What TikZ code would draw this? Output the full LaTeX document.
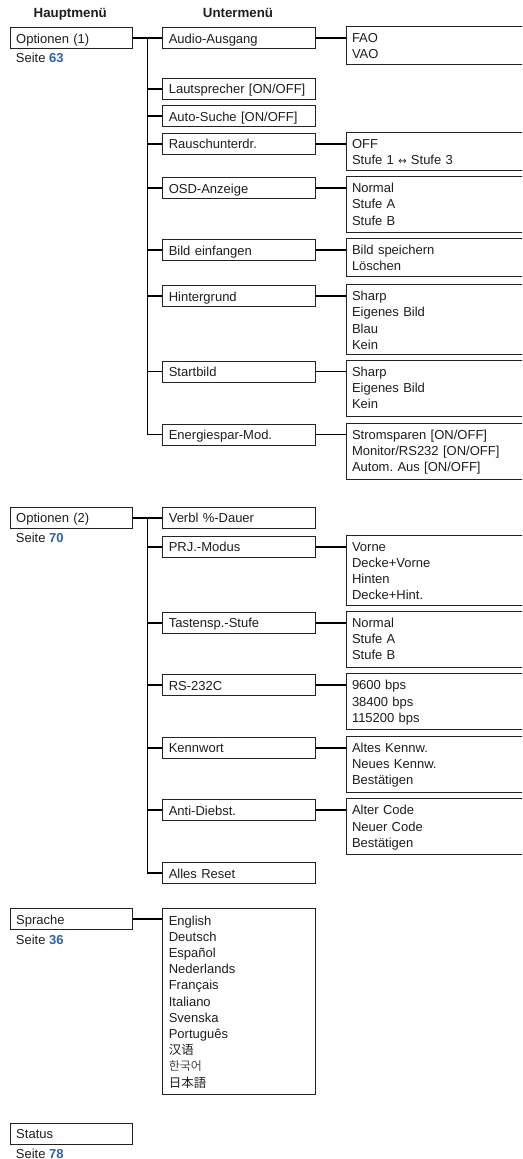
\documentclass[tikz,border=0pt]{standalone}
\usepackage{fontspec}
\setmainfont{Liberation Sans}
\newfontfamily\arrowfont{DejaVu Sans}
\newfontfamily\cjksc{Noto Sans CJK SC}
\newfontfamily\cjkkr{Noto Sans CJK KR}
\newfontfamily\cjkjp{Noto Sans CJK JP}
\usetikzlibrary{calc}
\frenchspacing
\definecolor{txt}{RGB}{30,30,30}
\definecolor{pageblue}{RGB}{44,98,176}
\definecolor{boxline}{RGB}{35,35,35}
\newcommand{\seitelbl}[1]{Seite \textbf{\textcolor{pageblue}{#1}}}
\newcommand{\dblarrow}{{\arrowfont\fontsize{10}{10}\selectfont ↔}}
\begin{document}
\begin{tikzpicture}[x=1pt,y=-1pt,
  every node/.style={font=\fontsize{13}{16.2}\selectfont\frenchspacing, text=txt},
  mainbox/.style={draw=boxline, line width=1pt, anchor=north west, text width=110.2pt, inner xsep=5.75pt, inner ysep=5.5pt, text height=10pt, text depth=0pt, align=left},
  subbox/.style={draw=boxline, line width=1pt, anchor=north west, text width=140.2pt, inner xsep=6pt, inner ysep=5.5pt, text height=10pt, text depth=0pt, align=left},
  rbox/.style={draw=boxline, line width=1pt, anchor=north west, text width=202.5pt, inner xsep=6pt, inner ysep=0pt, text height=16.15pt, text depth=#1, align=left},
  langbox/.style={draw=boxline, line width=1pt, anchor=north west, text width=141pt, inner xsep=6pt, inner ysep=0pt, text height=16.3pt, text depth=169.4pt, align=left},
  conn/.style={line width=1.9pt, draw=black},
  pagelbl/.style={anchor=base west, inner sep=0pt},
  head/.style={anchor=base, inner sep=0pt, font=\fontsize{13.3}{16}\selectfont\bfseries}
]
\useasboundingbox (0,0) rectangle (522,1159);
\fill[white] (0,0) rectangle (522,1159);
\clip (0,0) rectangle (522,1159);

% headers
\node[head] (hm) at (70.3,17.8) {Hauptmenü};
\node[head] (um) at (238,17.8) {Untermenü};

% ---------- Optionen (1)
\node[mainbox] (o1) at (10,27) {Optionen (1)};
\node[pagelbl] (p1) at (15.7,62) {\seitelbl{63}};

\node[subbox] (a1) at (162.3,27)    {Audio-Ausgang};
\node[subbox] (a2) at (162.3,77.7)  {Lautsprecher [ON/OFF]};
\node[subbox] (a3) at (162.3,105)   {Auto-Suche [ON/OFF]};
\node[subbox] (a4) at (162.3,132.7) {Rauschunterdr.};
\node[subbox] (a5) at (162.3,177)   {OSD-Anzeige};
\node[subbox] (a6) at (162.3,239)   {Bild einfangen};
\node[subbox] (a7) at (162.3,285)   {Hintergrund};
\node[subbox] (a8) at (162.3,360.5) {Startbild};
\node[subbox] (a9) at (162.3,423.5) {Energiespar-Mod.};

\node[rbox=22.15pt] (r1) at (345.5,26)    {FAO\\VAO};
\node[rbox=22.15pt] (r4) at (345.5,131.7) {OFF\\Stufe 1 \dblarrow{} Stufe 3};
\node[rbox=39.85pt] (r5) at (345.5,176)   {Normal\\Stufe A\\Stufe B};
\node[rbox=22.15pt] (r6) at (345.5,238)   {Bild speichern\\Löschen};
\node[rbox=53.85pt] (r7) at (345.5,284)   {Sharp\\Eigenes Bild\\Blau\\Kein};
\node[rbox=39.85pt] (r8) at (345.5,359.5) {Sharp\\Eigenes Bild\\Kein};
\node[rbox=39.85pt] (r9) at (345.5,422.5) {Stromsparen [ON/OFF]\\Monitor/RS232 [ON/OFF]\\Autom. Aus [ON/OFF]};

\coordinate (t1) at ($(o1.east)!0.5!(a1.west)$);
\draw[conn] (o1.east) -- (a1.west);
\foreach \s in {a2,a3,a4,a5,a6,a7,a8,a9} \draw[conn] (t1) |- (\s.west);
\foreach \s/\r in {a1/r1,a4/r4,a5/r5,a6/r6,a7/r7,a8/r8,a9/r9} \draw[conn] (\s.east) -- (\s.east -| \r.west);

% ---------- Optionen (2)
\node[mainbox] (o2) at (10,506.7) {Optionen (2)};
\node[pagelbl] (p2) at (15.7,542) {\seitelbl{70}};

\node[subbox] (b1) at (162.3,506.7) {Verbl \%-Dauer};
\node[subbox] (b2) at (162.3,535.7) {PRJ.-Modus};
\node[subbox] (b3) at (162.3,611.7) {Tastensp.-Stufe};
\node[subbox] (b4) at (162.3,674.3) {RS-232C};
\node[subbox] (b5) at (162.3,736.7) {Kennwort};
\node[subbox] (b6) at (162.3,799.3) {Anti-Diebst.};
\node[subbox] (b7) at (162.3,862)   {Alles Reset};

\node[rbox=53.85pt] (q2) at (345.5,534.7) {Vorne\\Decke+Vorne\\Hinten\\Decke+Hint.};
\node[rbox=39.85pt] (q3) at (345.5,610.7) {Normal\\Stufe A\\Stufe B};
\node[rbox=39.85pt] (q4) at (345.5,673.3) {9600 bps\\38400 bps\\115200 bps};
\node[rbox=39.85pt] (q5) at (345.5,735.7) {Altes Kennw.\\Neues Kennw.\\Bestätigen};
\node[rbox=39.85pt] (q6) at (345.5,798.3) {Alter Code\\Neuer Code\\Bestätigen};

\coordinate (t2) at ($(o2.east)!0.5!(b1.west)$);
\draw[conn] (o2.east) -- (b1.west);
\foreach \s in {b2,b3,b4,b5,b6,b7} \draw[conn] (t2) |- (\s.west);
\foreach \s/\r in {b2/q2,b3/q3,b4/q4,b5/q5,b6/q6} \draw[conn] (\s.east) -- (\s.east -| \r.west);

% ---------- Sprache
\node[mainbox] (o3) at (10,908.3) {Sprache};
\node[pagelbl] (p3) at (15.7,944.7) {\seitelbl{36}};
\node[langbox] (l1) at (162.3,908.3) {English\\Deutsch\\Español\\Nederlands\\Français\\Italiano\\Svenska\\Português\\{\cjksc\fontsize{12.5}{16.2}\selectfont 汉语}\\{\cjkkr\fontsize{12}{16.2}\selectfont\color{black!70} 한국어}\\{\cjkjp\fontsize{12.5}{16.2}\selectfont 日本語}};
\draw[conn] (o3.east) -- (o3.east -| l1.west);

% ---------- Status
\node[mainbox] (o4) at (10,1122.7) {Status};
\node[pagelbl] (p4) at (15.7,1158) {\seitelbl{78}};
\end{tikzpicture}
\end{document}
